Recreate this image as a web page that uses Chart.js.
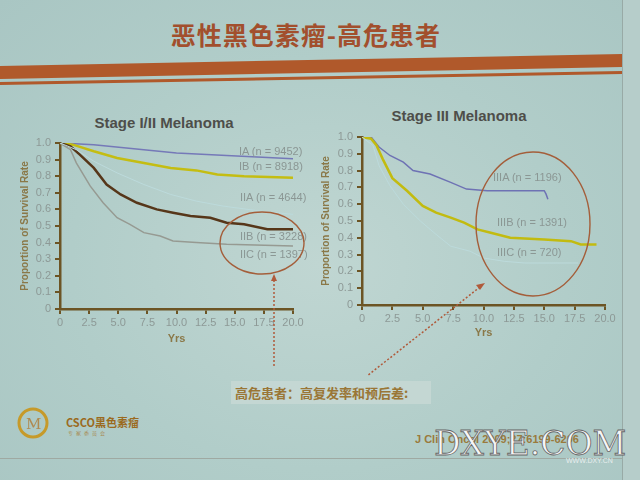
<!DOCTYPE html>
<html>
<head>
  <meta charset="utf-8">
  <title>恶性黑色素瘤-高危患者</title>
  <script src="https://cdn.jsdelivr.net/npm/chart.js"></script>
  <style>
    body {
      margin: 0;
      padding: 0;
      width: 640px;
      height: 480px;
      overflow: hidden;
      position: relative;
      font-family: 'Liberation Sans', Arial, sans-serif;
      background: radial-gradient(ellipse at 50% 55%, #c0d6d2 0%, #b1cdc9 55%, #a9c6c3 100%);
    }
    .slide-edge {
      position: absolute; left: 622px; top: 0; width: 18px; height: 480px;
      background: #b6cdca; border-left: 1px solid #98aaa6;
    }
    .slide-bottom {
      position: absolute; left: 0; top: 458px; width: 622px; height: 1px; background: #9fa9a2;
    }
    .head {
      position: absolute; left: 0; top: 16px; width: 612px; text-align: center;
      font-family: 'Noto Sans CJK SC', sans-serif; font-weight: bold; font-size: 25px;
      color: #a24f2d; letter-spacing: 1px;
    }
    .ctitle {
      position: absolute; width: 200px; text-align: center; font-size: 15px; font-weight: bold;
      color: #4e4e4a; line-height: 18px;
    }
    canvas { position: absolute; }
    #c1 { left: 10px; top: 108px; }
    #c2 { left: 312px; top: 101px; }
    .lbl {
      position: absolute; font-size: 11px; color: #8b9794; white-space: nowrap;
    }
    .note {
      position: absolute; left: 231px; top: 381px; width: 200px; height: 23px;
      background: #c4d7d3; color: #9a7636; font-family: 'Noto Sans CJK SC', sans-serif;
      font-weight: bold; font-size: 13px; line-height: 23px; text-indent: 4px;
    }
    .logo-txt {
      position: absolute; left: 66px; top: 414px; font-weight: bold; font-size: 11px; color: #9b6a1e;
      font-family: 'Noto Sans CJK SC', sans-serif;
    }
    .logo-sub {
      position: absolute; left: 68px; top: 429px; font-size: 5px; color: #a88a50; letter-spacing: 3px;
      font-family: 'Noto Sans CJK SC', sans-serif;
    }
    .ref {
      position: absolute; left: 415px; top: 433px; font-size: 11px; font-weight: bold; color: #9a7a3c;
    }
    .mark {
      position: absolute; left: 434px; top: 424px; font-family: 'DejaVu Serif', serif; font-size: 33px;
      color: #f6f6f6; -webkit-text-stroke: 0.8px #666;
    }
    .mark-sub {
      position: absolute; left: 566px; top: 457px; font-size: 7px; color: #e8eeee;
    }
    svg { position: absolute; left: 0; top: 0; }
  </style>
</head>
<body>
  <div class="slide-edge"></div>
  <div class="slide-bottom"></div>
  <svg width="640" height="480" style="z-index:0">
    <polygon points="0,66 622,54 622,67 0,79" fill="#b0592b"/>
    <polygon points="0,82 622,71 622,74 0,85" fill="#b0592b"/>
  </svg>
  <div class="head">恶性黑色素瘤-高危患者</div>

  <div class="ctitle" style="left:64px;top:114px">Stage I/II Melanoma</div>
  <div class="ctitle" style="left:359px;top:107px">Stage III Melanoma</div>

  <canvas id="c1" width="300" height="238"></canvas>
  <canvas id="c2" width="310" height="239"></canvas>

  <div class="lbl" style="left:239px;top:145px">IA (n = 9452)</div>
  <div class="lbl" style="left:239px;top:160px">IB (n = 8918)</div>
  <div class="lbl" style="left:240px;top:191px">IIA (n = 4644)</div>
  <div class="lbl" style="left:240px;top:230px">IIB (n = 3228)</div>
  <div class="lbl" style="left:240px;top:248px">IIC (n = 1397)</div>

  <div class="lbl" style="left:493px;top:171px">IIIA (n = 1196)</div>
  <div class="lbl" style="left:497px;top:216px">IIIB (n = 1391)</div>
  <div class="lbl" style="left:497px;top:246px">IIIC (n = 720)</div>

  <div class="note">高危患者：高复发率和预后差:</div>

  <svg width="640" height="480" style="z-index:5">
    <circle cx="33" cy="423" r="14" fill="none" stroke="#c69a2a" stroke-width="3"/>
    <text x="26" y="429" font-family="DejaVu Serif" font-size="15" fill="#b08a50">M</text>
  </svg>
  <div class="logo-txt">CSCO黑色素瘤</div>
  <div class="logo-sub">专家委员会</div>
  <div class="ref">J Clin Oncol 2009;27:6199-6206</div>
  <div class="mark">DXYE.COM</div>
  <div class="mark-sub">WWW.DXY.CN</div>

  <svg width="640" height="480" style="z-index:10">
    <ellipse cx="262" cy="243" rx="42" ry="31" fill="none" stroke="#a45e3a" stroke-width="1.4"/>
    <ellipse cx="533" cy="224" rx="57" ry="72" fill="none" stroke="#a45e3a" stroke-width="1.4"/>
    <line x1="274" y1="280" x2="274" y2="368" stroke="#b05a3a" stroke-width="1.5" stroke-dasharray="2,2"/>
    <polygon points="274,274 271,281 277,281" fill="#b05a3a"/>
    <line x1="480" y1="287" x2="367" y2="376" stroke="#b05a3a" stroke-width="1.5" stroke-dasharray="2,2"/>
    <polygon points="485,283 476,285 480,290" fill="#b05a3a"/>
  </svg>

  <script>
    // Stage I/II (years, survival proportion)
    const yrsIA = [0, 2.9, 7.2, 10, 14.3, 20];
    const survIA = [1.0, 0.99, 0.96, 0.94, 0.925, 0.905];
    const yrsIB = [0, 1.1, 2.9, 4.9, 7.2, 9.5, 11.7, 13.5, 15.8, 20];
    const survIB = [1.0, 0.99, 0.95, 0.91, 0.88, 0.85, 0.835, 0.81, 0.80, 0.79];
    const yrsIIA = [0, 1.4, 2.9, 4.9, 7.2, 9.5, 11.7, 14, 17.2, 20];
    const survIIA = [1.0, 0.96, 0.89, 0.82, 0.75, 0.69, 0.65, 0.62, 0.59, 0.57];
    const yrsIIB = [0, 0.9, 1.7, 2.9, 4, 5.2, 6.6, 8.3, 9.7, 11.2, 12.9, 14.3, 15.8, 17.8, 20];
    const survIIB = [1.0, 0.98, 0.93, 0.85, 0.75, 0.69, 0.64, 0.60, 0.58, 0.56, 0.55, 0.52, 0.51, 0.48, 0.48];
    const yrsIIC = [0, 0.9, 1.4, 2.6, 3.7, 4.9, 6, 7.2, 8.6, 9.7, 11.7, 14.3, 20];
    const survIIC = [1.0, 0.96, 0.88, 0.74, 0.64, 0.55, 0.51, 0.46, 0.44, 0.41, 0.40, 0.39, 0.38];

    // Stage III
    const yrsIIIA = [0, 0.75, 1.4, 2.3, 3.4, 4.2, 5.6, 7.3, 8.6, 10.3, 15, 15.15, 15.3];
    const survIIIA = [1.0, 1.0, 0.94, 0.89, 0.85, 0.80, 0.78, 0.73, 0.69, 0.68, 0.68, 0.66, 0.63];
    const yrsIIIB = [0, 0.75, 1.2, 1.7, 2.5, 3.7, 5, 6.1, 7.3, 8.4, 9.5, 10.6, 12.2, 15, 17.2, 18, 19.3];
    const survIIIB = [1.0, 0.99, 0.95, 0.87, 0.755, 0.68, 0.59, 0.55, 0.52, 0.49, 0.45, 0.43, 0.40, 0.39, 0.38, 0.36, 0.36];
    const yrsIIIC = [0, 0.9, 1.4, 2.3, 3.4, 4.8, 6.1, 7.3, 8.9, 10, 11.7, 13.4, 17.8];
    const survIIIC = [1.0, 0.95, 0.83, 0.71, 0.60, 0.50, 0.42, 0.35, 0.32, 0.28, 0.26, 0.25, 0.25];

    const xTicks = [0, 2.5, 5, 7.5, 10, 12.5, 15, 17.5, 20];

    const axisCol = '#6c5424';
    const tickCol = '#8d9996';

    function pts(xs, ys) {
      return xs.map((x, i) => ({ x: x, y: ys[i] }));
    }

    function serie(label, xs, ys, color, width) {
      return { label: label, data: pts(xs, ys), borderColor: color, borderWidth: width,
               pointRadius: 0, tension: 0, fill: false };
    }

    function fmt(v) {
      return v === 0 ? '0' : Number(v).toFixed(1);
    }

    function opts(xHeight, padLeft, padTop) {
      return {
        responsive: false,
        animation: false,
        layout: { padding: { left: padLeft, right: 17, top: padTop, bottom: 0 } },
        plugins: {
          legend: { display: false },
          tooltip: { enabled: false },
          title: { display: false }
        },
        scales: {
          x: {
            type: 'linear', min: 0, max: 20,
            afterBuildTicks: s => { s.ticks = xTicks.map(v => ({ value: v })); },
            ticks: { color: tickCol, font: { size: 11 }, padding: 2, maxRotation: 0, autoSkip: false, callback: fmt },
            grid: { drawOnChartArea: false, color: axisCol, lineWidth: 2, tickLength: 5 },
            border: { color: axisCol, width: 2.5 },
            title: { display: true, text: 'Yrs', color: '#8a7848', font: { size: 11, weight: 'bold' }, padding: 0 },
            afterFit: s => { s.height = xHeight; }
          },
          y: {
            min: 0, max: 1,
            ticks: { stepSize: 0.1, color: tickCol, font: { size: 11 }, padding: 4, callback: fmt },
            grid: { drawOnChartArea: false, color: axisCol, lineWidth: 2, tickLength: 5 },
            border: { color: axisCol, width: 2.5 },
            title: { display: true, text: 'Proportion of Survival Rate', color: '#8a7848',
                     font: { size: 10, weight: 'bold' }, padding: 0 },
            afterFit: s => { s.width = 50 - padLeft; }
          }
        }
      };
    }

    new Chart(document.getElementById('c1'), {
      type: 'line',
      data: {
        datasets: [
          serie('IIA', yrsIIA, survIIA, '#bcdadb', 1),
          serie('IIC', yrsIIC, survIIC, '#969a92', 1.5),
          serie('IIB', yrsIIB, survIIB, '#563619', 2.5),
          serie('IB', yrsIB, survIB, '#c4bd12', 2.5),
          serie('IA', yrsIA, survIA, '#7579b8', 1.5)
        ]
      },
      options: opts(37, 9, 35)
    });

    new Chart(document.getElementById('c2'), {
      type: 'line',
      data: {
        datasets: [
          serie('IIIC', yrsIIIC, survIIIC, '#bcdadb', 1),
          serie('IIIB', yrsIIIB, survIIIB, '#c2bb10', 2.5),
          serie('IIIA', yrsIIIA, survIIIA, '#6e72b4', 1.5)
        ]
      },
      options: opts(35, 8, 36)
    });
  </script>
</body>
</html>
